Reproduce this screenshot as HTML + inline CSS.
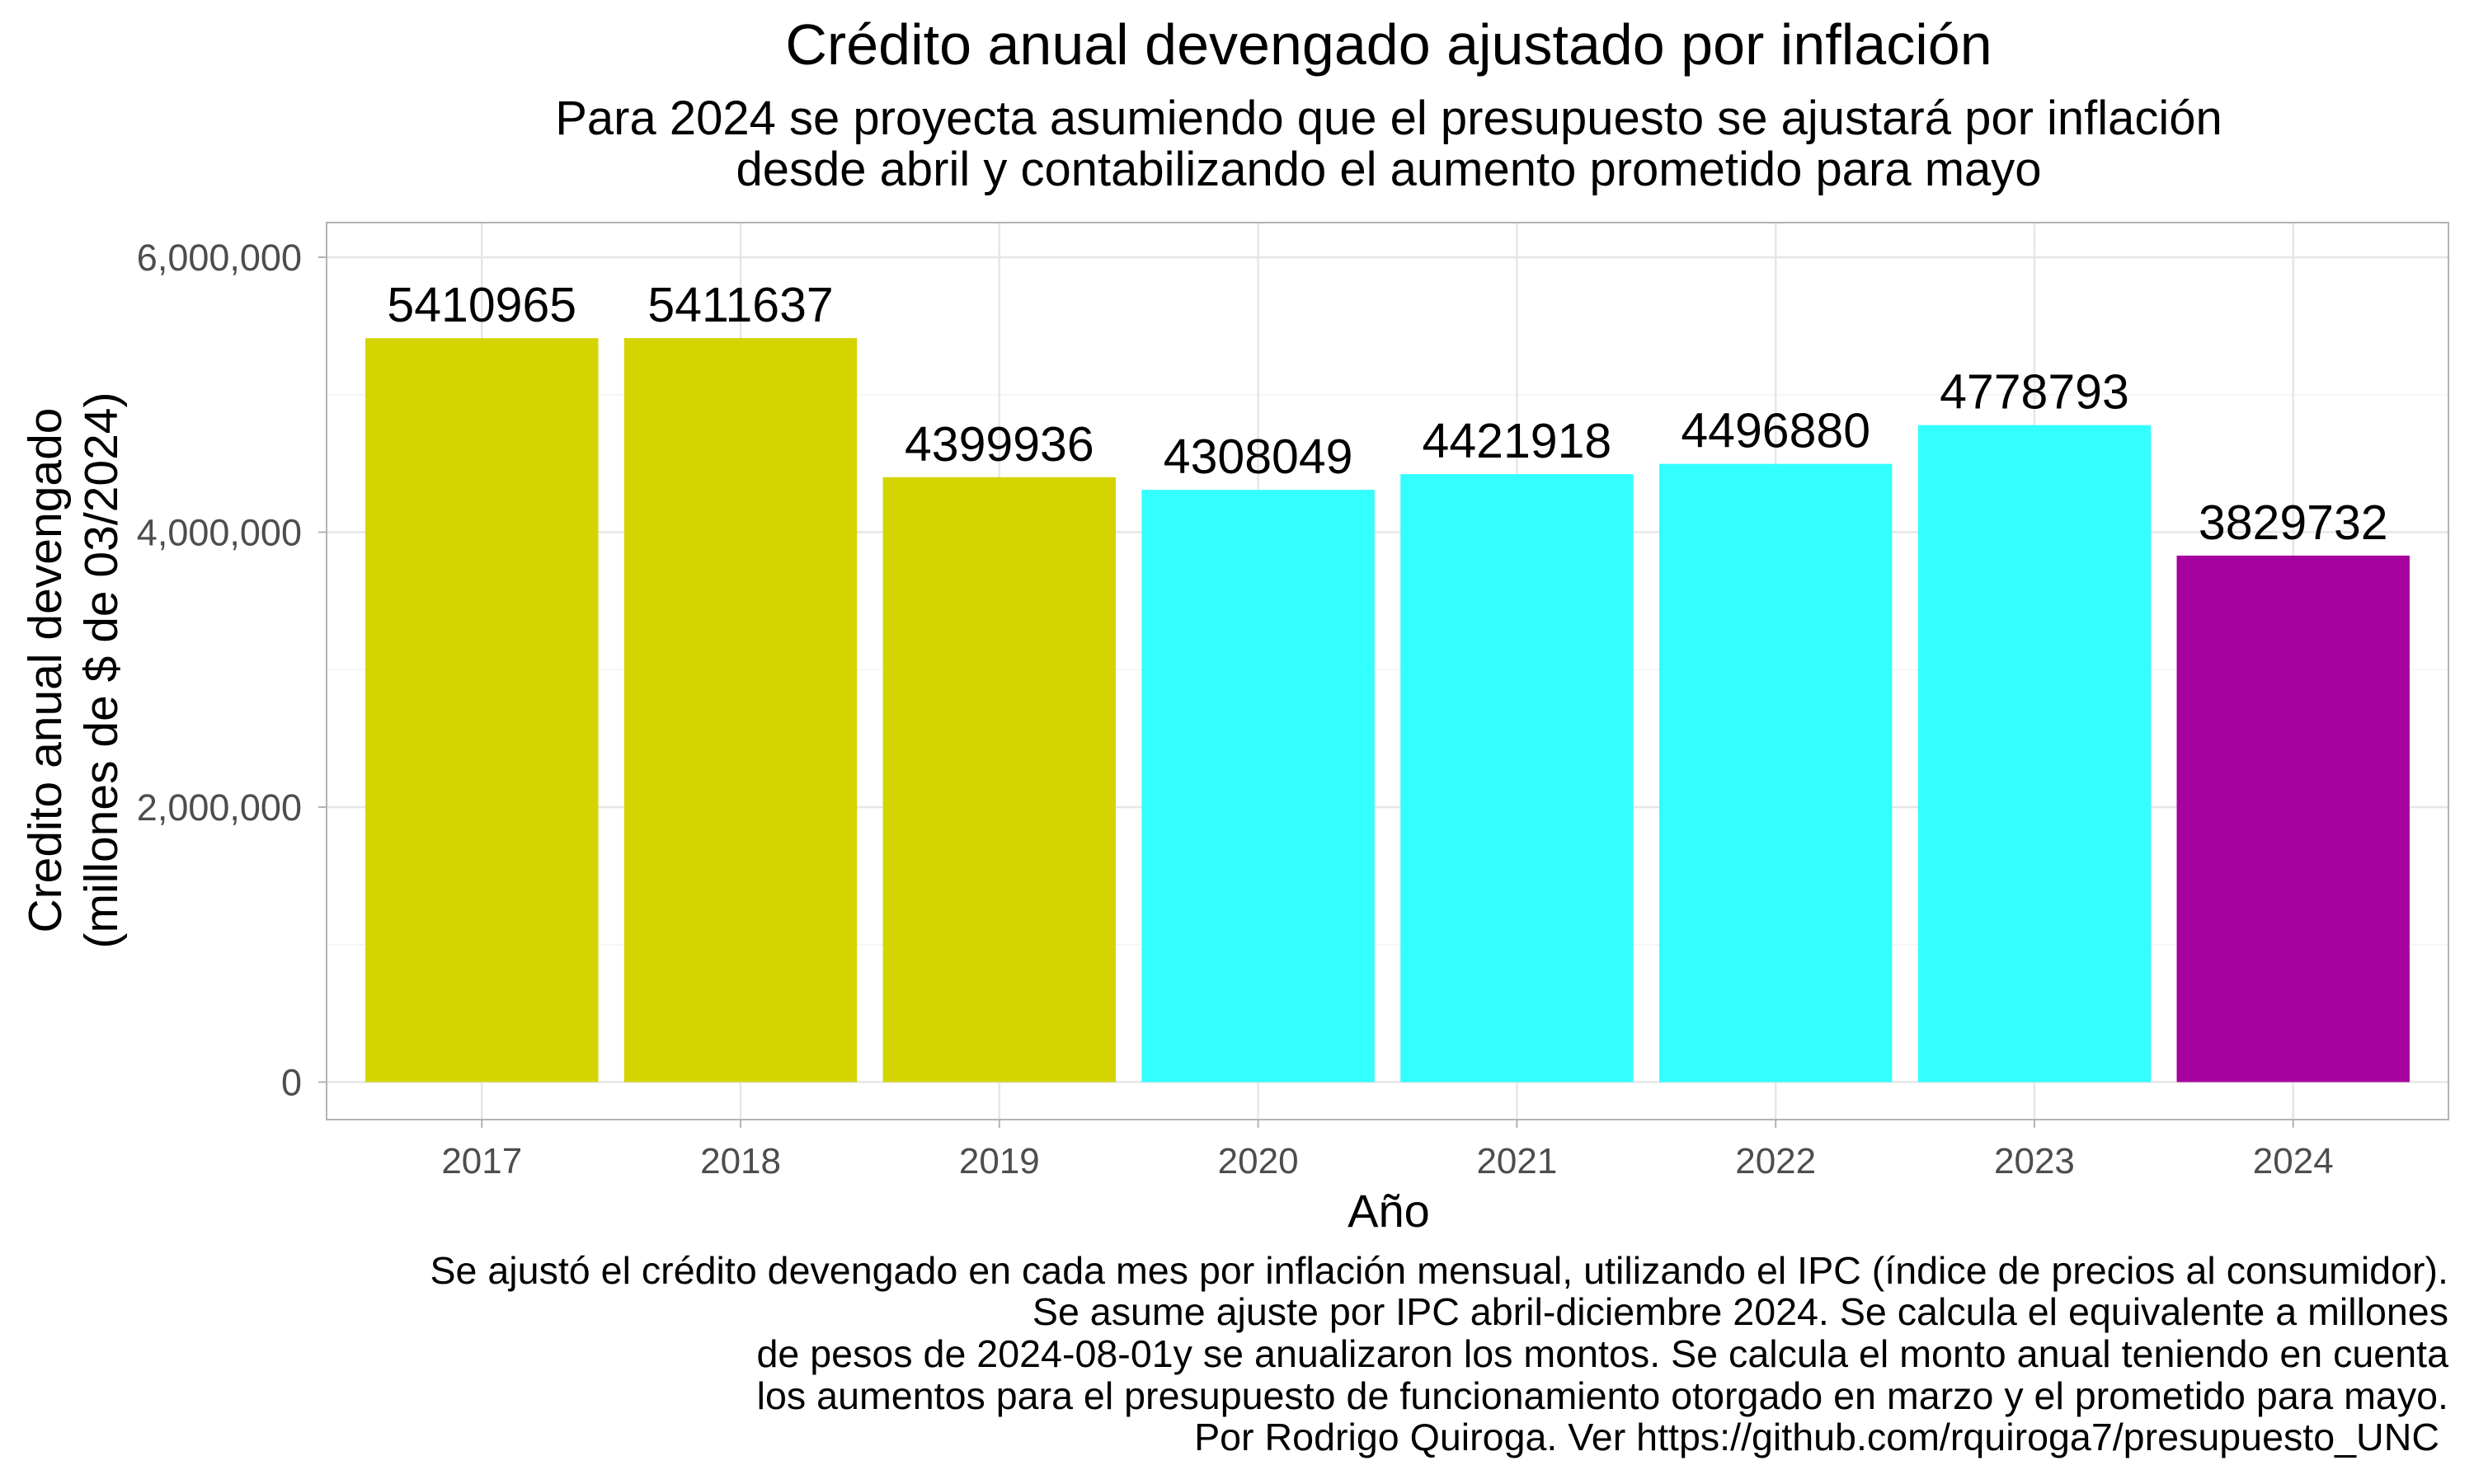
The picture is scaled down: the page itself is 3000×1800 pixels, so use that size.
<!DOCTYPE html>
<html><head><meta charset="utf-8"><style>
body{margin:0;background:#fff}
svg{display:block;font-family:"Liberation Sans",sans-serif}
</style></head><body>
<svg id="c" width="3000" height="1800" viewBox="0 0 3000 1800">
<text x="1684" y="78" font-size="70" text-anchor="middle">Crédito anual devengado ajustado por inflación</text>
<text x="1684" y="163" font-size="58" text-anchor="middle">Para 2024 se proyecta asumiendo que el presupuesto se ajustará por inflación</text>
<text x="1684" y="225" font-size="58" text-anchor="middle">desde abril y contabilizando el aumento prometido para mayo</text>
<g id="grid"></g>
<g id="bars"></g>
<rect x="396" y="270" width="2573" height="1088" fill="none" stroke="#b3b3b3" stroke-width="2"/>
<g id="axes"></g>
<text x="1684" y="1488" font-size="56" text-anchor="middle">Año</text>
<g transform="translate(0,813) rotate(-90)">
<text x="0" y="74" font-size="57" text-anchor="middle">Credito anual devengado</text>
<text x="0" y="142" font-size="57" text-anchor="middle">(millones de $ de 03/2024)</text>
</g>
<g font-size="46.6" text-anchor="end">
<text x="2969" y="1557">Se ajustó el crédito devengado en cada mes por inflación mensual, utilizando el IPC (índice de precios al consumidor).</text>
<text x="2969" y="1607">Se asume ajuste por IPC abril-diciembre 2024. Se calcula el equivalente a millones</text>
<text x="2969" y="1658">de pesos de 2024-08-01y se anualizaron los montos. Se calcula el monto anual teniendo en cuenta</text>
<text x="2969" y="1709">los aumentos para el presupuesto de funcionamiento otorgado en marzo y el prometido para mayo.</text>
<text x="2958" y="1759">Por Rodrigo Quiroga. Ver https://github.com/rquiroga7/presupuesto_UNC</text>
</g>
</svg>
<script>
const years=["2017","2018","2019","2020","2021","2022","2023","2024"];
const values=[5410965,5411637,4399936,4308049,4421918,4496880,4778793,3829732];
const colors=["#d4d400","#d4d400","#d4d400","#33ffff","#33ffff","#33ffff","#33ffff","#a6009e"];
const yTicks=[0,2000000,4000000,6000000];
const yTickLabels=["0","2,000,000","4,000,000","6,000,000"];
const NS="http://www.w3.org/2000/svg";
const L=396,R=2969,T=270,B=1358;
const y=v=>1312.5-v*(1000.5/6000000);
const step=(R-L)/8.2;
const x=i=>L+step*(i+0.6);
const bw=step*0.9;
function mk(tag,attrs,parent){const e=document.createElementNS(NS,tag);for(const k in attrs)e.setAttribute(k,attrs[k]);document.getElementById(parent).appendChild(e);return e;}
for(let i=0;i<yTicks.length-1;i++){const v=(yTicks[i]+yTicks[i+1])/2;
const g=mk('line',{x1:L,x2:R,y1:y(v),y2:y(v),stroke:'#f3f3f3','stroke-width':1.5},'grid');

}
yTicks.forEach((v,i)=>{const g=mk('line',{x1:L,x2:R,y1:y(v),y2:y(v),stroke:'#e6e6e6','stroke-width':2.5},'grid');


const t=mk('line',{x1:L-10,x2:L,y1:y(v),y2:y(v),stroke:'#b3b3b3','stroke-width':2},'axes');


const l=mk('text',{x:L-30,y:y(v)+16,'font-size':45,fill:'#4d4d4d','text-anchor':'end'},'axes');l.textContent=yTickLabels[i];

});
years.forEach((yr,i)=>{const g=mk('line',{x1:x(i),x2:x(i),y1:T,y2:B,stroke:'#e6e6e6','stroke-width':2.5},'grid');


const r=mk('rect',{x:x(i)-bw/2,y:y(values[i]),width:bw,height:y(0)-y(values[i]),fill:colors[i]},'bars');


const lb=mk('text',{x:x(i),y:y(values[i])-20,'font-size':59,'text-anchor':'middle'},'bars');lb.textContent=values[i];


const t=mk('line',{x1:x(i),x2:x(i),y1:B,y2:B+10,stroke:'#b3b3b3','stroke-width':2},'axes');


const l=mk('text',{x:x(i),y:B+65,'font-size':44,fill:'#4d4d4d','text-anchor':'middle'},'axes');l.textContent=yr;

});
</script>
</body></html>
